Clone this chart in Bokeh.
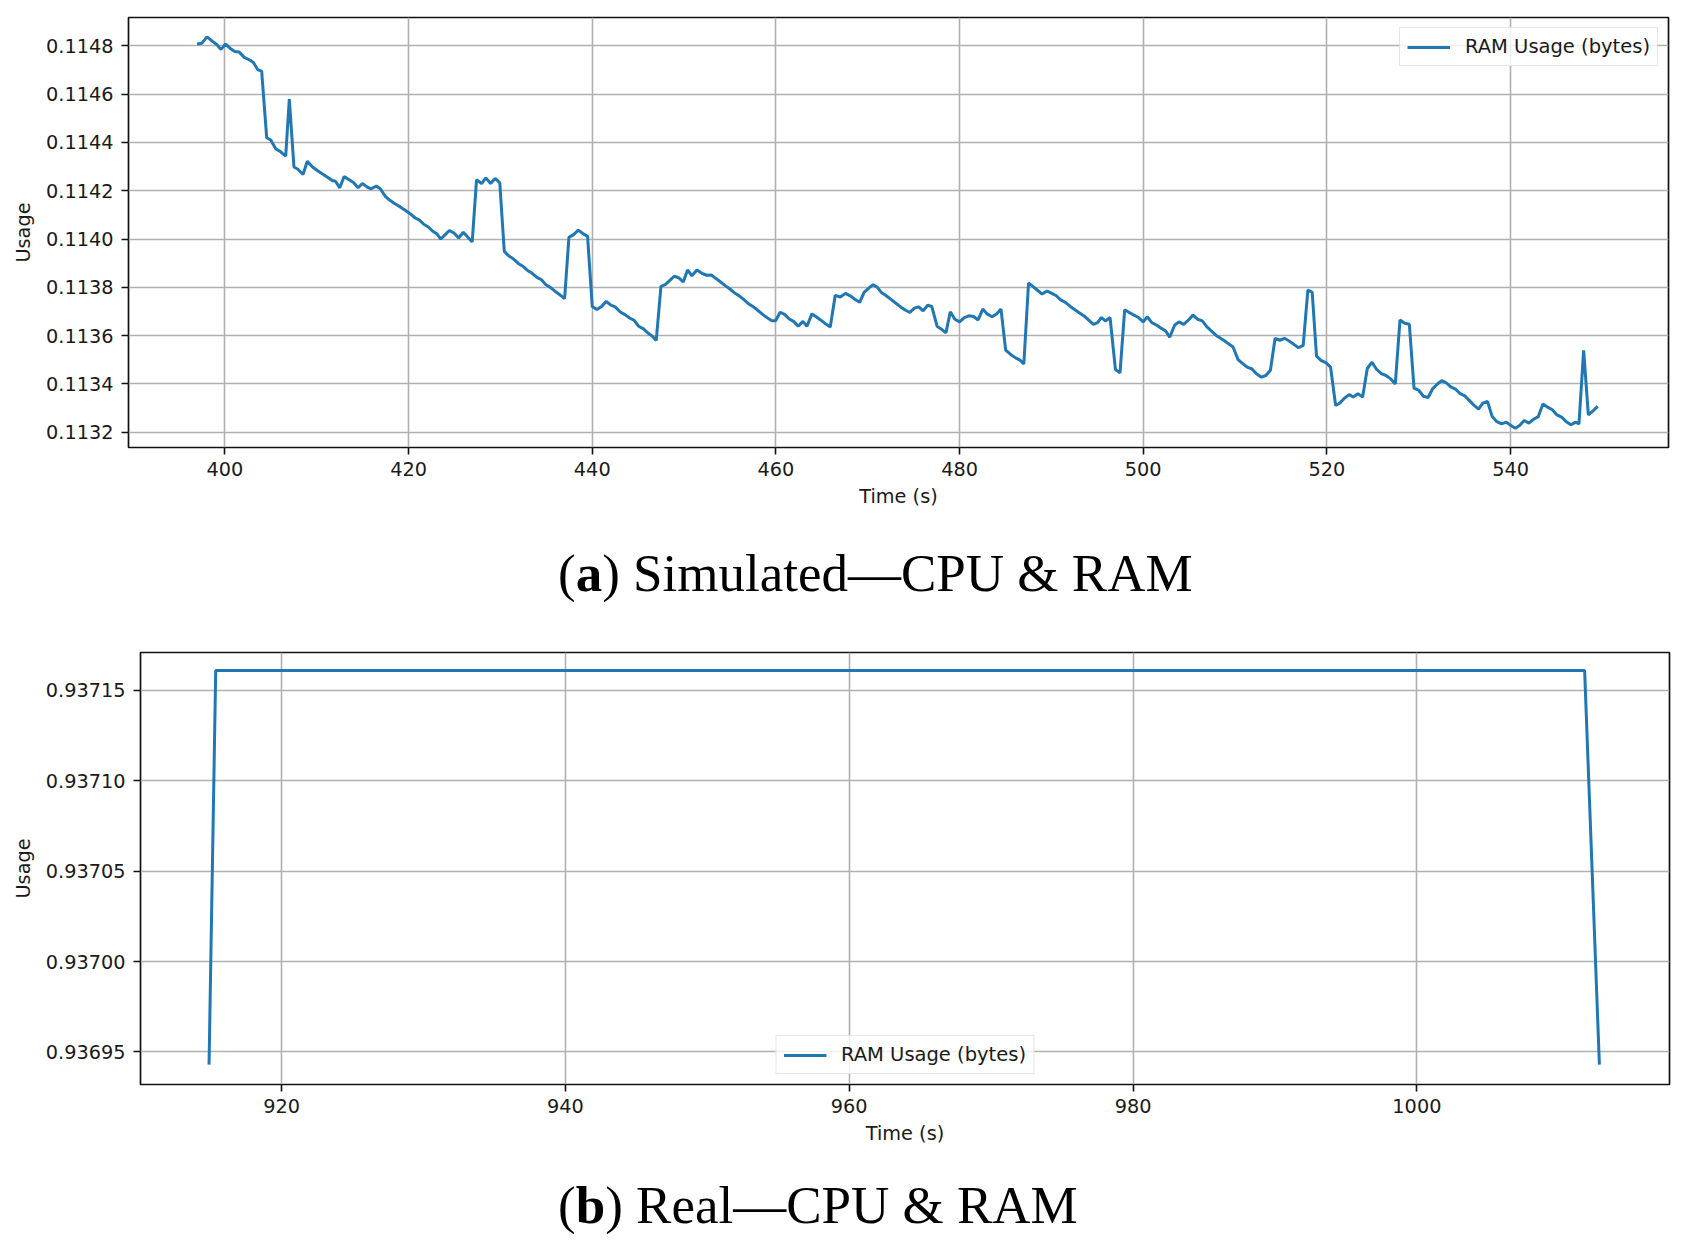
from bokeh.plotting import figure
from bokeh.models import Range1d, FixedTicker, PrintfTickFormatter, Div, ColumnDataSource, Spacer
from bokeh.layouts import column, row
from bokeh.embed import file_html
from bokeh.resources import INLINE

# ---------------- data: (a) Simulated ----------------
sim_time = [
    396.96, 397.47, 398.05, 398.66, 399.13, 399.57, 400.07, 400.58, 401.08, 401.55,
    402.10, 402.75, 403.10, 403.60, 404.00, 404.55, 404.99, 405.53, 406.07, 406.62,
    407.01, 407.52, 407.95, 408.50, 408.97, 409.51, 410.05, 410.59, 411.14, 411.68,
    412.04, 412.51, 412.98, 413.49, 414.03, 414.50, 414.97, 415.47, 415.91, 416.49,
    416.92, 417.46, 418.00, 418.55, 419.09, 419.63, 420.17, 420.72, 421.19, 421.69,
    422.16, 422.63, 423.07, 423.50, 423.97, 424.44, 424.95, 425.45, 425.96, 426.46,
    426.93, 427.40, 427.95, 428.42, 428.93, 429.43, 429.93, 430.42, 430.89, 431.43,
    431.98, 432.45, 432.96, 433.43, 433.97, 434.45, 434.95, 435.43, 435.97, 436.44,
    436.99, 437.46, 437.97, 438.48, 438.98, 439.49, 440.00, 440.51, 441.02, 441.52,
    442.03, 442.50, 443.05, 443.56, 444.07, 444.57, 445.05, 445.59, 446.06, 446.57,
    446.97, 447.48, 447.95, 448.42, 448.93, 449.44, 449.91, 450.38, 450.85, 451.40,
    451.94, 452.49, 452.96, 453.50, 454.01, 454.52, 455.03, 455.50, 456.04, 456.55,
    457.06, 457.57, 458.08, 458.58, 459.09, 459.56, 459.96, 460.47, 460.94, 461.42,
    461.92, 462.43, 462.94, 463.38, 463.92, 464.46, 464.94, 465.44, 465.92, 466.46,
    467.01, 467.58, 468.09, 468.59, 469.13, 469.60, 470.11, 470.58, 471.05, 471.48,
    472.02, 472.56, 473.10, 473.65, 474.08, 474.58, 475.09, 475.56, 476.03, 476.53,
    476.97, 477.55, 478.05, 478.52, 478.99, 479.49, 480.00, 480.51, 481.01, 481.52,
    482.02, 482.53, 483.03, 483.54, 484.01, 484.51, 485.02, 485.56, 486.10, 486.57,
    487.00, 487.51, 487.98, 488.45, 488.99, 489.53, 490.04, 490.54, 490.97, 491.52,
    492.06, 492.60, 493.14, 493.68, 494.15, 494.58, 495.02, 495.45, 495.88, 496.39,
    496.97, 497.47, 497.98, 498.48, 498.99, 499.49, 500.00, 500.43, 500.94, 501.44,
    501.95, 502.45, 502.89, 503.43, 503.90, 504.40, 504.91, 505.42, 505.92, 506.43,
    506.94, 507.44, 507.94, 508.76, 509.27, 509.78, 510.33, 510.80, 511.31, 511.82,
    512.33, 512.87, 513.35, 513.85, 514.36, 514.87, 515.38, 515.89, 516.40, 516.91,
    517.42, 517.93, 518.40, 518.87, 519.38, 519.89, 520.40, 520.95, 521.42, 521.93,
    522.44, 522.87, 523.38, 523.89, 524.40, 524.91, 525.42, 525.93, 526.44, 526.95,
    527.45, 527.96, 528.47, 528.98, 529.49, 530.00, 530.51, 531.02, 531.53, 532.04,
    532.51, 533.02, 533.49, 534.00, 534.51, 535.02, 535.53, 536.04, 536.51, 536.98,
    537.49, 538.00, 538.51, 539.02, 539.53, 540.04, 540.51, 540.98, 541.49, 542.00,
    542.51, 543.02, 543.53, 544.04, 544.55, 545.05, 545.56, 546.07, 546.58, 547.09,
    547.45, 547.96, 548.47, 548.98, 549.49,
]
sim_usage = [
    0.114807, 0.114810, 0.114837, 0.114818, 0.114804, 0.114785, 0.114807, 0.114789, 0.114776, 0.114774,
    0.114752, 0.114740, 0.114731, 0.114700, 0.114695, 0.114419, 0.114410, 0.114374, 0.114361, 0.114343,
    0.114579, 0.114298, 0.114289, 0.114267, 0.114322, 0.114299, 0.114284, 0.114270, 0.114257, 0.114242,
    0.114239, 0.114212, 0.114259, 0.114246, 0.114233, 0.114212, 0.114230, 0.114216, 0.114208, 0.114219,
    0.114208, 0.114177, 0.114159, 0.114145, 0.114133, 0.114119, 0.114105, 0.114087, 0.114078, 0.114060,
    0.114050, 0.114032, 0.114022, 0.114000, 0.114017, 0.114035, 0.114025, 0.114004, 0.114028, 0.114007,
    0.113988, 0.114245, 0.114230, 0.114253, 0.114230, 0.114251, 0.114233, 0.113949, 0.113931, 0.113917,
    0.113898, 0.113887, 0.113870, 0.113859, 0.113841, 0.113832, 0.113811, 0.113800, 0.113783, 0.113770,
    0.113753, 0.114007, 0.114018, 0.114037, 0.114023, 0.114011, 0.113721, 0.113708, 0.113721, 0.113742,
    0.113726, 0.113719, 0.113698, 0.113687, 0.113673, 0.113663, 0.113639, 0.113628, 0.113611, 0.113597,
    0.113580, 0.113804, 0.113811, 0.113828, 0.113846, 0.113839, 0.113822, 0.113872, 0.113848, 0.113872,
    0.113858, 0.113850, 0.113851, 0.113836, 0.113821, 0.113806, 0.113792, 0.113777, 0.113764, 0.113748,
    0.113731, 0.113719, 0.113703, 0.113687, 0.113673, 0.113662, 0.113662, 0.113697, 0.113688, 0.113670,
    0.113659, 0.113639, 0.113659, 0.113639, 0.113690, 0.113676, 0.113663, 0.113648, 0.113636, 0.113767,
    0.113760, 0.113775, 0.113765, 0.113751, 0.113738, 0.113779, 0.113797, 0.113811, 0.113800, 0.113779,
    0.113765, 0.113749, 0.113733, 0.113717, 0.113706, 0.113696, 0.113714, 0.113719, 0.113703, 0.113726,
    0.113721, 0.113639, 0.113626, 0.113612, 0.113699, 0.113668, 0.113657, 0.113675, 0.113682, 0.113679,
    0.113665, 0.113710, 0.113689, 0.113678, 0.113689, 0.113710, 0.113540, 0.113522, 0.113508, 0.113499,
    0.113483, 0.113818, 0.113804, 0.113789, 0.113772, 0.113785, 0.113775, 0.113765, 0.113749, 0.113738,
    0.113721, 0.113706, 0.113692, 0.113678, 0.113661, 0.113647, 0.113654, 0.113675, 0.113661, 0.113675,
    0.113460, 0.113446, 0.113707, 0.113696, 0.113685, 0.113675, 0.113657, 0.113678, 0.113654, 0.113644,
    0.113631, 0.113619, 0.113594, 0.113644, 0.113657, 0.113647, 0.113664, 0.113685, 0.113668, 0.113661,
    0.113636, 0.113619, 0.113601, 0.113581, 0.113567, 0.113553, 0.113501, 0.113485, 0.113470, 0.113463,
    0.113442, 0.113428, 0.113435, 0.113457, 0.113589, 0.113581, 0.113589, 0.113578, 0.113564, 0.113550,
    0.113560, 0.113789, 0.113779, 0.113515, 0.113497, 0.113488, 0.113470, 0.113311, 0.113321, 0.113342,
    0.113356, 0.113346, 0.113360, 0.113346, 0.113464, 0.113490, 0.113460, 0.113443, 0.113435, 0.113421,
    0.113400, 0.113665, 0.113651, 0.113647, 0.113383, 0.113374, 0.113349, 0.113344, 0.113381, 0.113400,
    0.113414, 0.113404, 0.113388, 0.113379, 0.113360, 0.113351, 0.113331, 0.113311, 0.113296, 0.113321,
    0.113328, 0.113265, 0.113244, 0.113235, 0.113242, 0.113228, 0.113217, 0.113228, 0.113249, 0.113238,
    0.113254, 0.113265, 0.113317, 0.113304, 0.113293, 0.113272, 0.113263, 0.113244, 0.113231, 0.113242,
    0.113235, 0.113539, 0.113272, 0.113289, 0.113307,
]
sim_xticks = [400, 420, 440, 460, 480, 500, 520, 540]
sim_yticks = [0.1132, 0.1134, 0.1136, 0.1138, 0.1140, 0.1142, 0.1144, 0.1146, 0.1148]

# ---------------- data: (b) Real ----------------
real_time = [914.89, 915.36, 1011.82, 1012.86]
real_usage = [0.936943, 0.937161, 0.937161, 0.936943]
real_xticks = [920, 940, 960, 980, 1000]
real_yticks = [0.93695, 0.93700, 0.93705, 0.93710, 0.93715]

series_label = "RAM Usage (bytes)"
x_label = "Time (s)"
y_label = "Usage"
caption_a = '(<b>a</b>) Simulated\u2014CPU &amp; RAM'
caption_b = '(<b>b</b>) Real\u2014CPU &amp; RAM'

LINE = "#1f77b4"
FONT = "DejaVu Sans"
TXT = "#1a1a1a"


def make_fig(xs, ys, xr, yr, xticks, yticks, yfmt, width, border_left, border_right,
             frame_h, border_top, border_bottom, legend_loc):
    H = border_top + frame_h + border_bottom
    p = figure(width=width, height=H, output_backend="svg", toolbar_location=None,
               x_range=Range1d(*xr), y_range=Range1d(*yr),
               min_border_left=border_left, min_border_right=border_right,
               min_border_top=border_top, min_border_bottom=border_bottom,
               margin=(0, 0, 0, 0))
    src = ColumnDataSource(dict(x=xs, y=ys))
    p.line("x", "y", source=src, line_color=LINE, line_width=3,
           legend_label=series_label)

    p.background_fill_color = "white"
    p.border_fill_color = "white"
    p.outline_line_color = "#111111"
    p.outline_line_width = 1.7
    p.outline_line_alpha = 1.0

    p.xaxis.ticker = FixedTicker(ticks=xticks)
    p.yaxis.ticker = FixedTicker(ticks=yticks)
    p.yaxis.formatter = PrintfTickFormatter(format=yfmt)
    p.xaxis.axis_label = x_label
    p.yaxis.axis_label = y_label
    for ax in (p.xaxis[0], p.yaxis[0]):
        ax.axis_line_color = None
        ax.major_tick_in = 0
        ax.major_tick_out = 7
        ax.major_tick_line_color = "#111111"
        ax.major_tick_line_width = 1.6
        ax.minor_tick_line_color = None
        ax.major_label_text_font = FONT
        ax.major_label_text_font_size = "19.3px"
        ax.major_label_text_color = TXT
        ax.axis_label_text_font = FONT
        ax.axis_label_text_font_size = "19.3px"
        ax.axis_label_text_font_style = "normal"
        ax.axis_label_text_color = TXT
    p.xaxis.major_label_standoff = 7
    p.xaxis.axis_label_standoff = 6
    p.yaxis.major_label_standoff = 8
    p.yaxis.axis_label_standoff = 8

    p.grid.grid_line_color = "#b0b0b0"
    p.grid.grid_line_width = 1.6
    p.xgrid.ticker = FixedTicker(ticks=xticks)
    p.ygrid.ticker = FixedTicker(ticks=yticks)

    lg = p.legend[0]
    lg.location = legend_loc
    lg.margin = 10
    lg.padding = 7
    lg.spacing = 0
    lg.glyph_width = 43
    lg.glyph_height = 20
    lg.label_height = 20
    lg.label_standoff = 15
    lg.label_text_font = FONT
    lg.label_text_font_size = "19.5px"
    lg.label_text_color = TXT
    lg.border_line_color = "#cccccc"
    lg.border_line_width = 1.5
    lg.background_fill_color = "white"
    lg.background_fill_alpha = 0.8
    return p


p1 = make_fig(sim_time, sim_usage, (389.5, 557.2), (0.113137, 0.114917),
              sim_xticks, sim_yticks, "%.4f", 1678, 128, 10, 430, 17, 70, "top_right")
p2 = make_fig(real_time, real_usage, (910.06, 1017.8), (0.936932, 0.937171),
              real_xticks, real_yticks, "%.5f", 1670, 128, 9, 432, 10, 70, "bottom_center")


def caption(html, pad_top, height):
    style = ("font-family:'Liberation Serif',serif;font-size:53px;line-height:60px;"
             "padding-left:558px;padding-top:%dpx;white-space:nowrap;color:#000;margin:0" % pad_top)
    return Div(text='<div style="%s">%s</div>' % (style, html), width=1678, height=height,
               margin=(0, 0, 0, 0))


d1 = caption(caption_a, 26, 125)
d2 = caption(caption_b, 21, 80)

layout = column(p1, d1, row(Spacer(width=8, height=10, margin=(0, 0, 0, 0)), p2, spacing=0), d2,
                spacing=0)

with open("out.html", "w") as f:
    f.write(file_html(layout, INLINE))
